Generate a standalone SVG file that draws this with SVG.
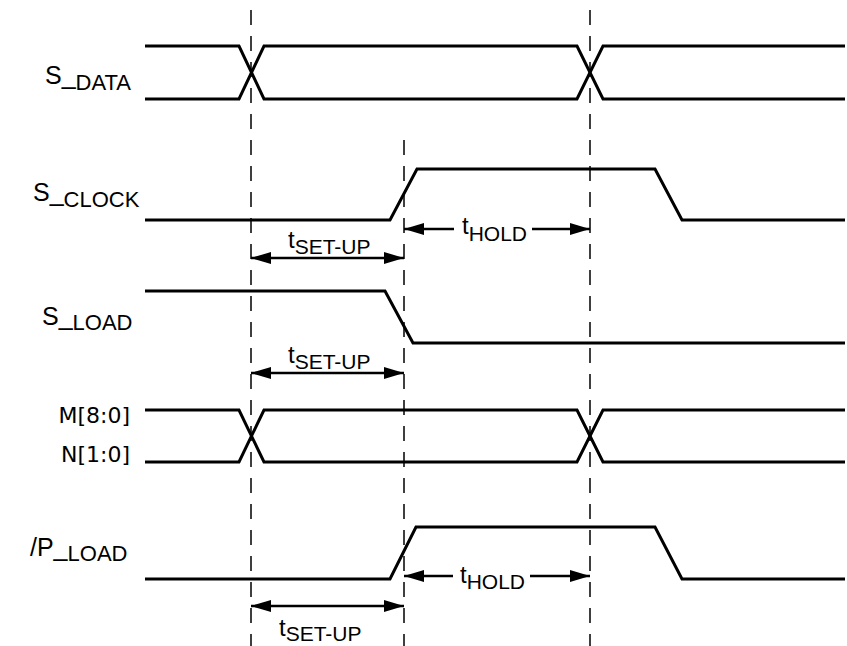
<svg xmlns="http://www.w3.org/2000/svg" width="847" height="646" viewBox="0 0 847 646">
<defs>
<style>
.sig{fill:none;stroke:#000;stroke-width:3;stroke-linejoin:miter}
.dash{fill:none;stroke:#000;stroke-width:1.5;stroke-dasharray:15 11}
.dim{fill:none;stroke:#000;stroke-width:2.5}
.lbl{font-family:"Liberation Sans",Arial,sans-serif;font-size:24px;fill:#000}
.sig-lbl{font-size:25px}
.sub{font-size:21px}
.sub2{font-size:22px}
.bus{font-family:"DejaVu Sans",sans-serif;font-size:22px;fill:#000}
</style>
<marker id="ah" markerUnits="userSpaceOnUse" markerWidth="20" markerHeight="12" viewBox="0 0 20 12" refX="20" refY="6" orient="auto-start-reverse">
<path d="M0,0 L20,6 L0,12 Z" fill="#000"/>
</marker>
</defs>
<rect width="847" height="646" fill="#fff"/>

<g id="guides">
<line class="dash" x1="251" y1="10" x2="251" y2="646"/>
<line class="dash" x1="404" y1="140" x2="404" y2="646"/>
<line class="dash" x1="590" y1="10" x2="590" y2="646"/>
</g>

<g id="s_data">
<text class="lbl sig-lbl" x="45" y="84">S_<tspan class="sub2" dy="6">DATA</tspan></text>
<path class="sig" d="M145,46 H239 L264,99 H577 L603,46 H845"/>
<path class="sig" d="M145,99 H239 L264,46 H577 L603,99 H845"/>
</g>

<g id="s_clock">
<text class="lbl sig-lbl" x="33" y="201">S_<tspan class="sub2" dy="6">CLOCK</tspan></text>
<path class="sig" d="M145,220 H390 L417,169 H655 L682,220 H845"/>
</g>

<g id="s_load">
<text class="lbl sig-lbl" x="42" y="325">S_<tspan class="sub2" dy="5">LOAD</tspan></text>
<path class="sig" d="M145,291 H385 L413,343 H845"/>
</g>

<g id="mn_bus">
<text class="bus" x="130" y="423" text-anchor="end">M[8:0]</text>
<text class="bus" x="130" y="462" text-anchor="end">N[1:0]</text>
<path class="sig" d="M145,410 H239 L264,462 H577 L603,410 H845"/>
<path class="sig" d="M145,462 H239 L264,410 H577 L603,462 H845"/>
</g>

<g id="p_load">
<text class="lbl sig-lbl" x="30" y="556">/P_<tspan class="sub2" dy="5">LOAD</tspan></text>
<path class="sig" d="M145,579 H390 L416,527 H655 L682,579 H845"/>
</g>

<g id="connectors">
<line class="dim" x1="251" y1="258" x2="404" y2="258" marker-start="url(#ah)" marker-end="url(#ah)"/>
<line class="dim" x1="404" y1="229" x2="454" y2="229" marker-start="url(#ah)"/>
<line class="dim" x1="532" y1="229" x2="590" y2="229" marker-end="url(#ah)"/>
<line class="dim" x1="251" y1="373" x2="404" y2="373" marker-start="url(#ah)" marker-end="url(#ah)"/>
<line class="dim" x1="404" y1="576" x2="453" y2="576" marker-start="url(#ah)"/>
<line class="dim" x1="530" y1="576" x2="590" y2="576" marker-end="url(#ah)"/>
<line class="dim" x1="251" y1="606" x2="404" y2="606" marker-start="url(#ah)" marker-end="url(#ah)"/>
</g>

<g id="timing_labels">
<text class="lbl" x="288" y="248">t<tspan class="sub" dy="6">SET-UP</tspan></text>
<text class="lbl" x="462" y="234">t<tspan class="sub" dy="7">HOLD</tspan></text>
<text class="lbl" x="288" y="363">t<tspan class="sub" dy="6">SET-UP</tspan></text>
<text class="lbl" x="460" y="583">t<tspan class="sub" dy="6">HOLD</tspan></text>
<text class="lbl" x="279" y="636">t<tspan class="sub" dy="5">SET-UP</tspan></text>
</g>
</svg>
